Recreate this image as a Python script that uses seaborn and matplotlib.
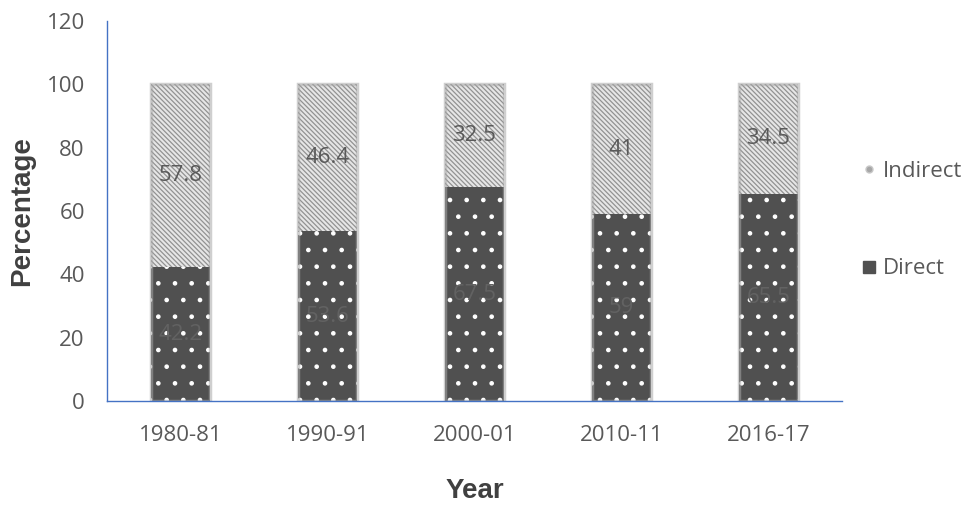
import matplotlib
matplotlib.use("Agg")
import matplotlib.pyplot as plt
import seaborn as sns
import pandas as pd
from matplotlib.lines import Line2D

years = ["1980-81", "1990-91", "2000-01", "2010-11", "2016-17"]
direct = [42.2, 53.6, 67.5, 59, 65.5]
indirect = [57.8, 46.4, 32.5, 41, 34.5]

df = pd.DataFrame({"Year": years, "Direct": direct, "Indirect": indirect})
df["Total"] = df["Direct"] + df["Indirect"]

sns.set_theme(style="white")
plt.rcParams["font.family"] = ["Open Sans", "DejaVu Sans"]
plt.rcParams["hatch.linewidth"] = 0.9

fig = plt.figure(figsize=(9.66, 5.05), dpi=100)
ax = fig.add_axes([0.1108, 0.2059, 0.7608, 0.7525])

bar_w = 0.395
ind_face, ind_hatch = "#e6e6e6", "#929292"
dir_face = "#505050"

# Indirect share drawn as the full stack, Direct drawn over its lower part
sns.barplot(data=df, x="Year", y="Total", ax=ax, color=ind_face, width=bar_w,
            linewidth=0.0, hatch="\\" * 7, saturation=1)
n_ind = len(ax.patches)
for p in ax.patches:
    p.set_edgecolor(ind_hatch)
sns.barplot(data=df, x="Year", y="Direct", ax=ax, color=dir_face, width=bar_w,
            edgecolor="white", linewidth=0.0, hatch=".", saturation=1)

# soft outline around the indirect bars
for p in ax.patches[:n_ind]:
    x, w = p.get_x(), p.get_width()
    ax.add_patch(plt.Rectangle((x, 0), w, 100, fill=False, edgecolor="#a8a8a8",
                               linewidth=2.5, alpha=0.55, zorder=1.5))

for i, (d, ind) in enumerate(zip(direct, indirect)):
    ax.text(i, d / 2, f"{d:g}", ha="center", va="center", fontsize=16, color="#626262")
    ax.text(i, d + ind / 2, f"{ind:g}", ha="center", va="center", fontsize=16, color="#595959")

ax.set_xlim(-0.5, 4.5)
ax.set_ylim(0, 120)
ax.set_yticks(range(0, 121, 20))
ax.tick_params(axis="both", labelsize=16, colors="#595959", length=0)
ax.tick_params(axis="x", pad=17)
ax.tick_params(axis="y", pad=16)
ax.set_xlabel("Year", fontsize=20, fontweight="bold", color="#404040",
              family="Liberation Sans", labelpad=23)
ax.set_ylabel("Percentage", fontsize=20, fontweight="bold", color="#404040",
              family="Liberation Sans", labelpad=8)

for s in ["top", "right"]:
    ax.spines[s].set_visible(False)
for s in ["left", "bottom"]:
    ax.spines[s].set_color("#4472c4")
    ax.spines[s].set_linewidth(1.0)

handles = [Line2D([], [], linestyle="none", marker="o", markersize=5,
                  markerfacecolor="#a6a6a6", markeredgecolor="#c8c8c8"),
           Line2D([], [], linestyle="none", marker="s", markersize=8,
                  markerfacecolor=dir_face, markeredgecolor=dir_face)]
leg = fig.legend(handles, ["Indirect", "Direct"], loc="upper left",
                 bbox_to_anchor=(0.893, 0.682), frameon=False, fontsize=16,
                 labelspacing=3.45, handlelength=0.6, handleheight=0.6,
                 handletextpad=0.3, borderpad=0, borderaxespad=0)
for t in leg.get_texts():
    t.set_color("#595959")

fig.savefig("out.png", dpi=100)
